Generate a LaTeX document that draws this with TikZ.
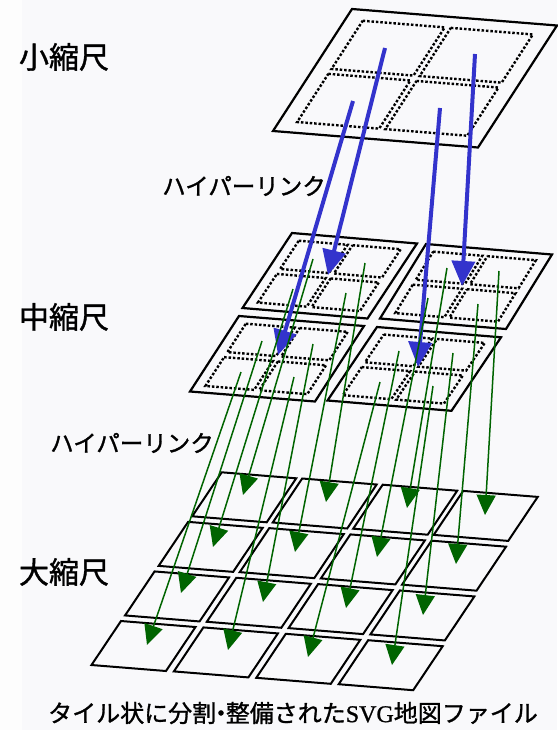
\documentclass[tikz,border=0pt]{standalone}
\usepackage{fontspec}
\setmainfont{Noto Sans CJK JP}[FakeBold=1.2]
\newfontfamily\latinserif{Liberation Serif}[FakeBold=1.0]
\usetikzlibrary{arrows.meta}
\definecolor{bgcol}{RGB}{249,249,251}
\definecolor{bgleft}{RGB}{253,253,253}
\definecolor{bluearr}{RGB}{51,51,204}
\definecolor{greenarr}{RGB}{0,100,0}
\tikzset{
  tileline/.style={draw=black, line width=2.2pt, line join=miter},
  smalltile/.style={draw=black, line width=2pt, line join=miter},
  dotline/.style={draw=black, line width=2.4pt, dash pattern=on 2.5pt off 1.9pt},
  bluearrow/.style={draw=bluearr, line width=4pt, -{Triangle[length=25pt,width=23pt]}},
  greenarrow/.style={draw=greenarr, line width=1.5pt, -{Triangle[length=20pt,width=19pt]}},
  scalelabel/.style={font=\fontsize{30pt}{32pt}\selectfont, inner sep=0pt},
  linklabel/.style={font=\fontsize{23.5pt}{25pt}\selectfont, inner sep=0pt},
  caplabel/.style={font=\fontsize{24pt}{26pt}\selectfont, inner sep=0pt},
}
\newcommand{\middots}{%
  \foreach \pa/\pb in {0.09/0.48, 0.52/0.905}
    \foreach \pc/\pd in {0.09/0.467, 0.533/0.915}
      \draw[dotline] (\pa,\pc) -- (\pb,\pc) -- (\pb,\pd) -- (\pa,\pd) -- cycle;}
\begin{document}
\begin{tikzpicture}[x=1pt, y=-1pt]
  % background
  \fill[bgcol] (0,0) rectangle (557,730);
  \fill[bgleft] (0,0) rectangle (22,730);
  \useasboundingbox (0,0) rectangle (557,730);

  % ---- top (small scale) tile
  \begin{scope}[shift={(352,9)}, x={(205pt,-16.5pt)}, y={(-79pt,-122pt)}]
    \draw[tileline] (0,0) -- (1,0) -- (1,1) -- (0,1) -- cycle;
    \foreach \pa/\pb in {0.085/0.485, 0.515/0.915}
      \foreach \pc/\pd in {0.085/0.48, 0.52/0.915}
        \draw[dotline] (\pa,\pc) -- (\pb,\pc) -- (\pb,\pd) -- (\pa,\pd) -- cycle;
  \end{scope}

  % ---- middle tiles
  \begin{scope}[shift={(292,233)}, x={(125pt,-10.5pt)}, y={(-49.5pt,-75pt)}]
    \draw[tileline] (0,0) -- (1,0) -- (1,1) -- (0,1) -- cycle;
    \middots
  \end{scope}
  \begin{scope}[shift={(426,244)}, x={(126pt,-10.5pt)}, y={(-46pt,-74.5pt)}]
    \draw[tileline] (0,0) -- (1,0) -- (1,1) -- (0,1) -- cycle;
    \middots
  \end{scope}
  \begin{scope}[shift={(239,316)}, x={(125pt,-10pt)}, y={(-49pt,-75.5pt)}]
    \draw[tileline] (0,0) -- (1,0) -- (1,1) -- (0,1) -- cycle;
    \middots
  \end{scope}
  \begin{scope}[shift={(377,327)}, x={(124pt,-10.3pt)}, y={(-49.5pt,-73.5pt)}]
    \draw[tileline] (0,0) -- (1,0) -- (1,1) -- (0,1) -- cycle;
    \middots
  \end{scope}

  % ---- bottom (large scale) tiles
  \foreach \r in {0,...,3} {
    \foreach \c in {0,...,3} {
      \pgfmathsetmacro\tx{221.7 + 80.5*\c + \r*(-33.57 + 0.633*\c)}
      \pgfmathsetmacro\ty{472.3 + 6.2*\c + \r*(49.57 + 0.067*\c)}
      \begin{scope}[shift={(\tx,\ty)}, x={(74.5pt,-6pt)}, y={(-29.5pt,-44pt)}]
        \draw[smalltile] (0,0) -- (1,0) -- (1,1) -- (0,1) -- cycle;
      \end{scope}
    }
  }

  % ---- labels
  \node[scalelabel] (lsmall) at (64,57) {小縮尺};
  \node[scalelabel] (lmid)   at (64,317) {中縮尺};
  \node[scalelabel] (llarge) at (64,572) {大縮尺};
  \node[linklabel] (link1) at (244,186) {ハイパーリンク};
  \node[linklabel] (link2) at (132,443) {ハイパーリンク};
  \node[caplabel] (cap) at (293,713) {タイル状に分割\hspace{-0.3em}・\hspace{-0.3em}整備された{\latinserif SVG}地図ファイル};

  % ---- blue link start / end points
  \coordinate (s1) at (385,48);
  \coordinate (s2) at (475,54);
  \coordinate (s3) at (353,101);
  \coordinate (s4) at (440,108);
  \coordinate (m1) at (328,275);
  \coordinate (m2) at (462,286);
  \coordinate (m3) at (278,355);
  \coordinate (m4) at (418,367);

  % ---- green link start points (middle tile quadrants)
  \coordinate (g00) at (313,259);
  \coordinate (g01) at (365,263);
  \coordinate (g10) at (293,289);
  \coordinate (g11) at (346,293);
  \coordinate (g02) at (447,268);
  \coordinate (g03) at (499,271);
  \coordinate (g12) at (428,298);
  \coordinate (g13) at (478,304);
  \coordinate (g20) at (262,341);
  \coordinate (g21) at (313,344);
  \coordinate (g30) at (241,372);
  \coordinate (g31) at (294,377);
  \coordinate (g22) at (399,351);
  \coordinate (g23) at (453,353);
  \coordinate (g32) at (380,382);
  \coordinate (g33) at (433,386);

  % ---- green link targets (bottom tiles)
  \coordinate (t00) at (243,495);
  \coordinate (t01) at (326,502);
  \coordinate (t02) at (407,508);
  \coordinate (t03) at (485,515);
  \coordinate (t10) at (213,547);
  \coordinate (t11) at (295,552);
  \coordinate (t12) at (377,557);
  \coordinate (t13) at (456,564);
  \coordinate (t20) at (181,593);
  \coordinate (t21) at (263,602);
  \coordinate (t22) at (346,608);
  \coordinate (t23) at (423,615);
  \coordinate (t30) at (147,645);
  \coordinate (t31) at (228,650);
  \coordinate (t32) at (308,657);
  \coordinate (t33) at (392,665);

  % ---- blue arrows
  \draw[bluearrow] (s1) -- (m1);
  \draw[bluearrow] (s2) -- (m2);
  \draw[bluearrow] (s3) -- (m3);
  \draw[bluearrow] (s4) -- (m4);

  % ---- green arrows
  \foreach \r in {0,...,3} {
    \foreach \c in {0,...,3} {
      \draw[greenarrow] (g\r\c) -- (t\r\c);
    }
  }
\end{tikzpicture}
\end{document}
